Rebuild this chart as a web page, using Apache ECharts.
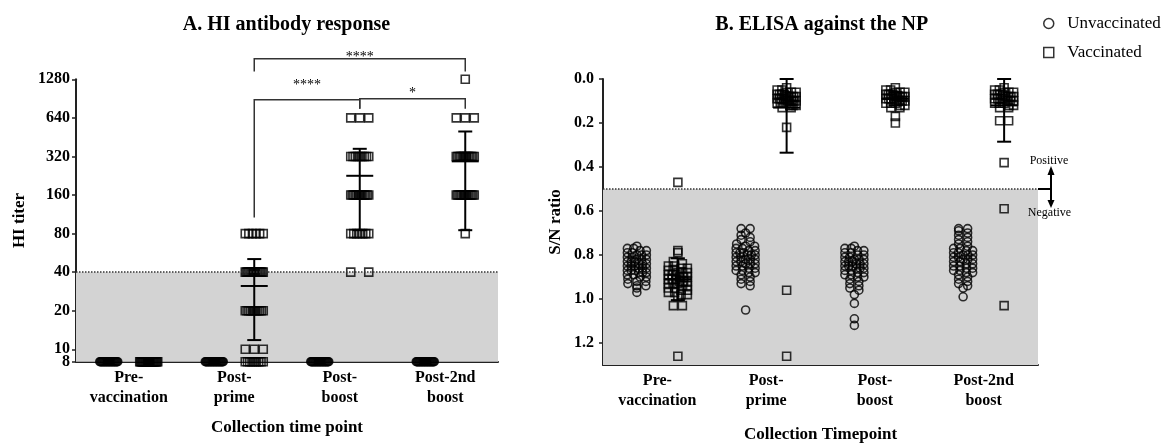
<!DOCTYPE html>
<html>
<head>
<meta charset="utf-8">
<title>HI antibody response / ELISA against the NP</title>
<script src="https://cdn.jsdelivr.net/npm/echarts@6.0.0/dist/echarts.min.js"></script>
<style>
  html, body { margin: 0; padding: 0; background: #fff; }
  #chart { width: 1171px; height: 443px; }
</style>
</head>
<body>
<div id="chart"></div>
<script>
// collection time points, same for both panels
var categories = ['Pre-\nvaccination', 'Post-\nprime', 'Post-\nboost', 'Post-2nd\nboost'];

// A. HI titers (one value per animal)
var hiUnvac0 = [8,8,8,8,8,8,8,8,8,8,8,8,8,8,8,8,8,8,8,8,8,8,8,8,8,8];
var hiUnvac1 = [8,8,8,8,8,8,8,8,8,8,8,8,8,8,8,8,8,8,8,8,8,8,8,8,8,8];
var hiUnvac2 = [8,8,8,8,8,8,8,8,8,8,8,8,8,8,8,8,8,8,8,8,8,8,8,8,8,8];
var hiUnvac3 = [8,8,8,8,8,8,8,8,8,8,8,8,8,8,8,8,8,8,8,8,8,8,8,8,8,8];
var hiVac0 = [8,8,8,8,8,8,8,8,8,8,8,8,8,8,8,8,8,8,8,8,8,8,8,8];
var hiVac1 = [80,80,80,80,80,80,
  40,40,40,40,40,40,40,40,40,40,40,40,40,40,40,40,
  20,20,20,20,20,20,20,20,20,20,20,
  10,10,10,
  8,8,8,8,8,8,8,8,8];
var hiVac2 = [640,640,640,
  320,320,320,320,320,320,320,320,320,
  160,160,160,160,160,160,160,160,160,160,160,160,160,
  80,80,80,80,80,80,80,
  40,40];
var hiVac3 = [1280,
  640,640,640,
  320,320,320,320,320,320,320,320,320,320,320,320,320,
  160,160,160,160,160,160,160,160,160,160,160,160,160,160,
  80];
var hiTicks = [8, 10, 20, 40, 80, 160, 320, 640, 1280];
var hiMean = [null, 31.2, 226, 293];
var hiSd = [null, 19.4, 141, 208];
var hiCutoff = 40;

// significance brackets on panel A
var sigFrom = [1, 1, 2];
var sigTo = [3, 2, 3];
var sigLeft = [1475, 107, 753];
var sigTop = [1855, 885, 901];
var sigRight = [1470, 753, 753];
var sigText = ['****', '****', '*'];
var sigTextAt = [1912, 1147, 999];

// B. ELISA S/N ratios
var snUnvac0 = [0.76,0.77,0.77,0.78,0.78,0.79,0.79,0.80,0.80,0.80,0.81,0.81,0.82,0.82,0.82,0.83,0.83,0.83,0.84,0.84,0.84,0.85,0.85,0.85,0.86,0.86,0.86,0.87,0.87,0.87,0.88,0.88,0.88,0.89,0.89,0.90,0.90,0.91,0.92,0.92,0.93,0.94,0.94,0.95,0.97];
var snUnvac1 = [0.68,0.68,0.70,0.71,0.72,0.73,0.74,0.75,0.76,0.76,0.77,0.77,0.78,0.78,0.79,0.79,0.79,0.80,0.80,0.80,0.81,0.81,0.82,0.82,0.82,0.83,0.83,0.84,0.84,0.84,0.85,0.85,0.86,0.86,0.87,0.87,0.88,0.88,0.89,0.90,0.91,0.92,0.93,0.94,1.05];
var snUnvac2 = [0.76,0.77,0.77,0.78,0.78,0.79,0.79,0.80,0.80,0.81,0.81,0.82,0.82,0.82,0.83,0.83,0.83,0.84,0.84,0.84,0.85,0.85,0.85,0.86,0.86,0.86,0.87,0.87,0.88,0.88,0.89,0.89,0.90,0.90,0.91,0.92,0.93,0.94,0.95,0.96,0.98,1.02,1.09,1.12];
var snUnvac3 = [0.68,0.68,0.69,0.70,0.71,0.72,0.73,0.74,0.75,0.76,0.77,0.77,0.78,0.78,0.79,0.79,0.80,0.80,0.80,0.81,0.81,0.82,0.82,0.82,0.83,0.83,0.84,0.84,0.85,0.85,0.86,0.86,0.87,0.87,0.88,0.88,0.89,0.90,0.91,0.92,0.93,0.94,0.95,0.99];
var snVac0 = [0.47,0.78,0.79,0.83,0.84,0.85,0.85,0.86,0.86,0.87,0.87,0.88,0.88,0.88,0.89,0.89,0.89,0.90,0.90,0.90,0.91,0.91,0.91,0.92,0.92,0.92,0.93,0.93,0.93,0.94,0.94,0.95,0.95,0.96,0.96,0.97,0.97,0.98,0.98,0.99,1.03,1.03,1.26];
var snVac1 = [0.04,0.05,0.05,0.06,0.06,0.06,0.07,0.07,0.07,0.07,0.08,0.08,0.08,0.08,0.08,0.09,0.09,0.09,0.09,0.09,0.10,0.10,0.10,0.10,0.10,0.11,0.11,0.11,0.11,0.12,0.12,0.12,0.13,0.13,0.22,0.96,1.26];
var snVac2 = [0.04,0.05,0.05,0.06,0.06,0.06,0.07,0.07,0.07,0.07,0.08,0.08,0.08,0.08,0.08,0.09,0.09,0.09,0.09,0.10,0.10,0.10,0.10,0.11,0.11,0.11,0.12,0.12,0.13,0.13,0.17,0.20];
var snVac3 = [0.04,0.05,0.05,0.06,0.06,0.06,0.07,0.07,0.07,0.07,0.08,0.08,0.08,0.08,0.09,0.09,0.09,0.09,0.10,0.10,0.10,0.11,0.11,0.11,0.12,0.12,0.13,0.13,0.19,0.19,0.38,0.59,1.03];
var snTicks = [0, 0.2, 0.4, 0.6, 0.8, 1.0, 1.2];
var snMean = [0.91, 0.13, 0.09, 0.12];
var snSd = [0.095, 0.205, 0.03, 0.165];
var snCutoff = 0.5;

var FONT = '"Liberation Serif", "Times New Roman", serif';
var lg = function (v) { return Math.log2(v); };

// identical values sit side by side (max +-9px)
function spreadSame(values) {
  var count = {}, used = {};
  values.forEach(function (v) { count[v] = (count[v] || 0) + 1; });
  return values.map(function (v) {
    var k = count[v], i = used[v] || 0;
    used[v] = i + 1;
    return k === 1 ? 0 : -9 + 18 * i / (k - 1);
  });
}
// close values (same bin) sit side by side
function spreadBins(values) {
  var key = function (v) { return Math.round(v / 0.02 + 1e-6); };
  var count = {}, used = {};
  values.forEach(function (v) { count[key(v)] = (count[key(v)] || 0) + 1; });
  return values.map(function (v) {
    var b = key(v), k = count[b], i = used[b] || 0;
    used[b] = i + 1;
    if (k === 1) return 0;
    var w = Math.min(9.5, (k - 1) * 4.5);
    return -w + 2 * w * i / (k - 1);
  });
}
function points(groups, spread, base, tf) {
  var out = [];
  groups.forEach(function (vals, c) {
    var dx = spread(vals);
    vals.forEach(function (v, i) {
      out.push({ value: [c, tf(v)], symbolOffset: [base + dx[i], 0] });
    });
  });
  return out;
}

var hollow = { color: 'rgba(0,0,0,0)', borderColor: '#000', borderWidth: 1.6 };

function errorBars(offset) {
  return function (params, api) {
    var c = api.value(0);
    var pm = api.coord([c, api.value(1)]);
    var pa = api.coord([c, api.value(2)]);
    var pb = api.coord([c, api.value(3)]);
    var x = pm[0] + offset;
    var st = { stroke: '#000', lineWidth: 2 };
    return { type: 'group', children: [
      { type: 'line', shape: { x1: x, y1: pa[1], x2: x, y2: pb[1] }, style: st },
      { type: 'line', shape: { x1: x - 7, y1: pa[1], x2: x + 7, y2: pa[1] }, style: st },
      { type: 'line', shape: { x1: x - 7, y1: pb[1], x2: x + 7, y2: pb[1] }, style: st },
      { type: 'line', shape: { x1: x - 13.5, y1: pm[1], x2: x + 13.5, y2: pm[1] }, style: st }
    ] };
  };
}

var hiErr = [];
hiMean.forEach(function (m, c) {
  if (m !== null) hiErr.push([c, lg(m), lg(m + hiSd[c]), lg(m - hiSd[c])]);
});
var snErr = snMean.map(function (m, c) {
  return [c, m, Math.max(0, m - snSd[c]), Math.min(1.3, m + snSd[c])];
});
var sigData = sigFrom.map(function (f, i) {
  return [f, sigTo[i], lg(sigLeft[i]), lg(sigTop[i]), lg(sigRight[i]), lg(sigTextAt[i])];
});

var boldText = { fontFamily: FONT, fontWeight: 'bold', fontSize: 16, color: '#000' };
var catAxis = function (grid, name, gap) {
  return {
    type: 'category', gridIndex: grid, data: categories, boundaryGap: true,
    name: name, nameLocation: 'middle', nameGap: gap,
    nameTextStyle: { fontFamily: FONT, fontWeight: 'bold', fontSize: 17, color: '#000' },
    axisLine: { onZero: false, lineStyle: { color: '#222', width: 2 } },
    axisTick: { alignWithLabel: true, length: 4, lineStyle: { color: '#222', width: 1.5 } },
    axisLabel: Object.assign({ interval: 0, margin: 6, lineHeight: 20 }, boldText),
    splitLine: { show: false }
  };
};
var hiFormat = function (v) { return String(Math.round(Math.pow(2, v))); };

var option = {
  animation: false,
  backgroundColor: '#fff',
  textStyle: { fontFamily: FONT },
  title: [
    { text: 'A. HI antibody response', left: 281.5, top: 10, textAlign: 'center',
      textStyle: { fontFamily: FONT, fontWeight: 'bold', fontSize: 20, color: '#000' } },
    { text: 'B. ELISA against the NP', left: 816.7, top: 10, textAlign: 'center',
      textStyle: { fontFamily: FONT, fontWeight: 'bold', fontSize: 20, color: '#000' } }
  ],
  legend: {
    orient: 'vertical', left: 1038, top: 10, itemWidth: 10, itemHeight: 10, itemGap: 12,
    selectedMode: false,
    data: [{ name: 'Unvaccinated', icon: 'circle' }, { name: 'Vaccinated', icon: 'rect' }],
    itemStyle: { color: 'rgba(0,0,0,0)', borderColor: '#000', borderWidth: 1.5 },
    formatter: function (n) { return '  ' + n; },
    textStyle: { fontFamily: FONT, fontSize: 17, color: '#000' }
  },
  grid: [
    { left: 76, top: 79.3, width: 422, height: 282.4, outerBoundsMode: 'none' },
    { left: 603, top: 79, width: 435, height: 286, outerBoundsMode: 'none' }
  ],
  xAxis: [
    catAxis(0, 'Collection time point', 57),
    catAxis(1, 'Collection Timepoint', 61)
  ],
  yAxis: [
    {
      type: 'value', gridIndex: 0, min: lg(8), max: lg(1280),
      name: 'HI titer', nameLocation: 'middle', nameRotate: 90, nameGap: 48,
      nameTextStyle: { fontFamily: FONT, fontWeight: 'bold', fontSize: 17, color: '#000' },
      axisLine: { show: true, onZero: false, lineStyle: { color: '#222', width: 2 } },
      axisTick: { show: true, length: 4, customValues: hiTicks.map(lg), lineStyle: { color: '#222', width: 1.5 } },
      axisLabel: Object.assign({ margin: 6, customValues: hiTicks.slice(1).map(lg), formatter: hiFormat }, boldText),
      splitLine: { show: false }
    },
    {
      // bottom label "8" only, kept apart so it is not dropped next to "10"
      type: 'value', gridIndex: 0, min: lg(8), max: lg(1280), position: 'left',
      axisLine: { show: false }, axisTick: { show: false }, splitLine: { show: false },
      axisLabel: Object.assign({ margin: 6, customValues: [lg(hiTicks[0])], formatter: hiFormat }, boldText)
    },
    {
      type: 'value', gridIndex: 1, min: 0, max: 1.3, inverse: true,
      name: 'S/N ratio', nameLocation: 'middle', nameRotate: 90, nameGap: 39,
      nameTextStyle: { fontFamily: FONT, fontWeight: 'bold', fontSize: 17, color: '#000' },
      axisLine: { show: true, onZero: false, lineStyle: { color: '#222', width: 2 } },
      axisTick: { show: true, length: 4, customValues: snTicks, lineStyle: { color: '#222', width: 1.5 } },
      axisLabel: Object.assign({ margin: 9, customValues: snTicks, formatter: function (v) { return v.toFixed(1); } }, boldText),
      splitLine: { show: false }
    }
  ],
  series: [
    // panel A background: negative zone and cut-off
    { type: 'line', name: 'bgA', xAxisIndex: 0, yAxisIndex: 0, data: [], silent: true,
      markArea: { silent: true, itemStyle: { color: '#d3d3d3' }, data: [[{ yAxis: lg(8) }, { yAxis: lg(hiCutoff) }]] },
      markLine: { silent: true, symbol: ['none', 'none'], label: { show: false },
        lineStyle: { type: 'dotted', color: '#333', width: 1.5 }, data: [{ yAxis: lg(hiCutoff) }] } },
    { type: 'scatter', name: 'Unvaccinated', xAxisIndex: 0, yAxisIndex: 0, clip: false,
      symbol: 'circle', symbolSize: 8, itemStyle: hollow,
      data: points([hiUnvac0, hiUnvac1, hiUnvac2, hiUnvac3], spreadSame, -20, lg) },
    { type: 'scatter', name: 'Vaccinated', xAxisIndex: 0, yAxisIndex: 0, clip: false,
      symbol: 'rect', symbolSize: 8, itemStyle: hollow,
      data: points([hiVac0, hiVac1, hiVac2, hiVac3], spreadSame, 20, lg) },
    { type: 'custom', name: 'errA', xAxisIndex: 0, yAxisIndex: 0, clip: false, z: 4, silent: true,
      renderItem: errorBars(20), data: hiErr },
    { type: 'custom', name: 'sigA', xAxisIndex: 0, yAxisIndex: 0, clip: false, z: 4, silent: true,
      renderItem: function (params, api) {
        var i = params.dataIndex;
        var x0 = api.coord([api.value(0), api.value(2)])[0] + 20;
        var x1 = api.coord([api.value(1), api.value(2)])[0] + 20;
        var yl = api.coord([api.value(0), api.value(2)])[1];
        var yt = api.coord([api.value(0), api.value(3)])[1];
        var yr = api.coord([api.value(0), api.value(4)])[1];
        var ys = api.coord([api.value(0), api.value(5)])[1];
        return { type: 'group', children: [
          { type: 'polyline', shape: { points: [[x0, yl], [x0, yt], [x1, yt], [x1, yr]] },
            style: { stroke: '#333', lineWidth: 1.5, fill: null } },
          { type: 'text', x: (x0 + x1) / 2, y: ys,
            style: { text: sigText[i], fill: '#000', font: '14px ' + FONT, align: 'center', verticalAlign: 'middle' } }
        ] };
      },
      data: sigData },

    // panel B
    { type: 'line', name: 'bgB', xAxisIndex: 1, yAxisIndex: 2, data: [], silent: true,
      markArea: { silent: true, itemStyle: { color: '#d3d3d3' }, data: [[{ yAxis: snCutoff }, { yAxis: 1.3 }]] },
      markLine: { silent: true, symbol: ['none', 'none'], label: { show: false },
        lineStyle: { type: 'dotted', color: '#333', width: 1.5 }, data: [{ yAxis: snCutoff }] } },
    { type: 'scatter', name: 'Unvaccinated', xAxisIndex: 1, yAxisIndex: 2, clip: false,
      symbol: 'circle', symbolSize: 8, itemStyle: hollow,
      data: points([snUnvac0, snUnvac1, snUnvac2, snUnvac3], spreadBins, -20.5, function (v) { return v; }) },
    { type: 'scatter', name: 'Vaccinated', xAxisIndex: 1, yAxisIndex: 2, clip: false,
      symbol: 'rect', symbolSize: 8, itemStyle: hollow,
      data: points([snVac0, snVac1, snVac2, snVac3], spreadBins, 20.5, function (v) { return v; }) },
    { type: 'custom', name: 'errB', xAxisIndex: 1, yAxisIndex: 2, clip: false, z: 4, silent: true,
      renderItem: errorBars(20.5), data: snErr },
    // positive / negative marker at the cut-off
    { type: 'custom', name: 'cutB', xAxisIndex: 1, yAxisIndex: 2, clip: false, z: 4, silent: true,
      renderItem: function (params, api) {
        var p = api.coord([api.value(0), api.value(1)]);
        var right = p[0] + api.size([1, 0])[0] / 2;
        var ax = right + 13, y = p[1];
        var st = { stroke: '#000', lineWidth: 2 };
        return { type: 'group', children: [
          { type: 'line', shape: { x1: right, y1: y, x2: ax, y2: y }, style: st },
          { type: 'line', shape: { x1: ax, y1: y - 15, x2: ax, y2: y + 12 }, style: st },
          { type: 'polygon', shape: { points: [[ax - 3.5, y - 14], [ax + 3.5, y - 14], [ax, y - 23]] }, style: { fill: '#000' } },
          { type: 'polygon', shape: { points: [[ax - 3.5, y + 11], [ax + 3.5, y + 11], [ax, y + 19]] }, style: { fill: '#000' } },
          { type: 'text', x: ax - 2, y: y - 28, style: { text: 'Positive', fill: '#000', font: '12px ' + FONT, align: 'center', verticalAlign: 'middle' } },
          { type: 'text', x: ax - 1.5, y: y + 24, style: { text: 'Negative', fill: '#000', font: '12px ' + FONT, align: 'center', verticalAlign: 'middle' } }
        ] };
      },
      data: [[3, snCutoff]] }
  ]
};

var chart = echarts.init(document.getElementById('chart'));
chart.setOption(option);
</script>
</body>
</html>
